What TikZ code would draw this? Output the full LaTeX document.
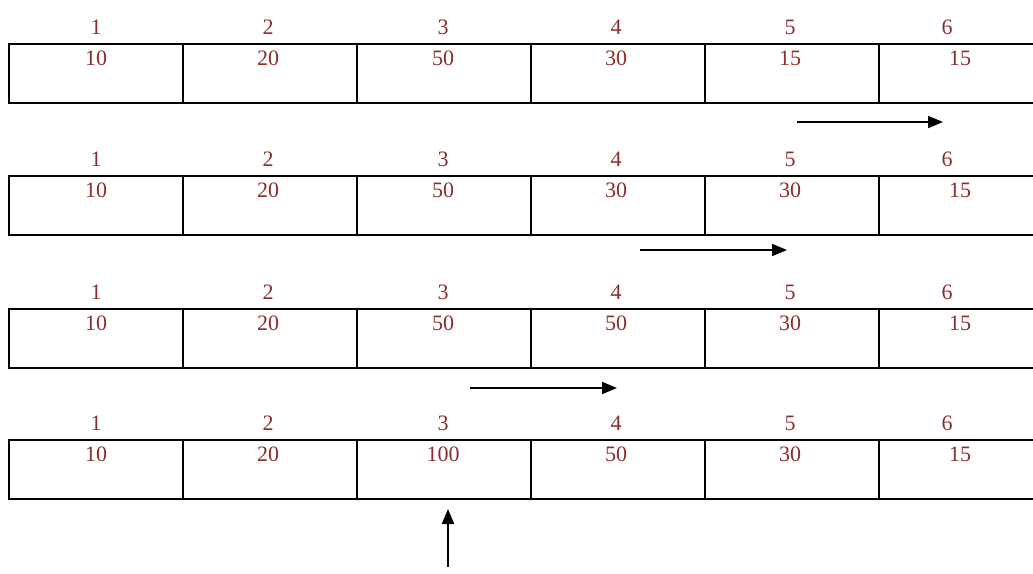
\documentclass[tikz,border=0pt]{standalone}
\usepackage{fontspec}
\setmainfont{Liberation Serif}
\usetikzlibrary{arrows.meta}
\definecolor{numred}{RGB}{140,45,45}
\begin{document}
\begin{tikzpicture}[x=1pt,y=-1pt,
  cell/.style={draw, line width=2pt, minimum width=174pt, minimum height=59pt, anchor=north west, inner sep=0pt},
  idx/.style={text=numred, font=\fontsize{22}{22}\selectfont, inner sep=0pt},
  arr/.style={line width=2pt, -{Triangle[length=15pt,width=12pt]}}]
\useasboundingbox (0,0) rectangle (1033,573);
\clip (0,0) rectangle (1033,573);
% cells
\foreach \t [count=\k] in {43,175,308,439} {
  \foreach \i in {1,...,6} {
    \node[cell] (c\k\i) at ({8+174*(\i-1)},\t) {};
  }
  \foreach \x [count=\i] in {96,268,443,616,790,947} {
    \node[idx] (l\k\i) at (\x,\t-16) {\i};
  }
}
% values
\foreach \v [count=\i] in {10,20,50,30,15,15} {
  \pgfmathsetmacro{\xx}{{96,268,443,616,790,960}[\i-1]}
  \node[idx] (v1\i) at (\xx,43+15) {\v};
}
\foreach \v [count=\i] in {10,20,50,30,30,15} {
  \pgfmathsetmacro{\xx}{{96,268,443,616,790,960}[\i-1]}
  \node[idx] (v2\i) at (\xx,175+15) {\v};
}
\foreach \v [count=\i] in {10,20,50,50,30,15} {
  \pgfmathsetmacro{\xx}{{96,268,443,616,790,960}[\i-1]}
  \node[idx] (v3\i) at (\xx,308+15) {\v};
}
\foreach \v [count=\i] in {10,20,100,50,30,15} {
  \pgfmathsetmacro{\xx}{{96,268,443,616,790,960}[\i-1]}
  \node[idx] (v4\i) at (\xx,439+15) {\v};
}
% arrows
\coordinate (a1s) at (797,122);
\coordinate (a1e) at (943,122);
\coordinate (a2s) at (640,250);
\coordinate (a2e) at (787,250);
\coordinate (a3s) at (470,388);
\coordinate (a3e) at (617,388);
\coordinate (ups) at (448,567);
\coordinate (upe) at (448,509);
\draw[arr] (a1s) -- (a1e);
\draw[arr] (a2s) -- (a2e);
\draw[arr] (a3s) -- (a3e);
\draw[arr] (ups) -- (upe);
\end{tikzpicture}
\end{document}
